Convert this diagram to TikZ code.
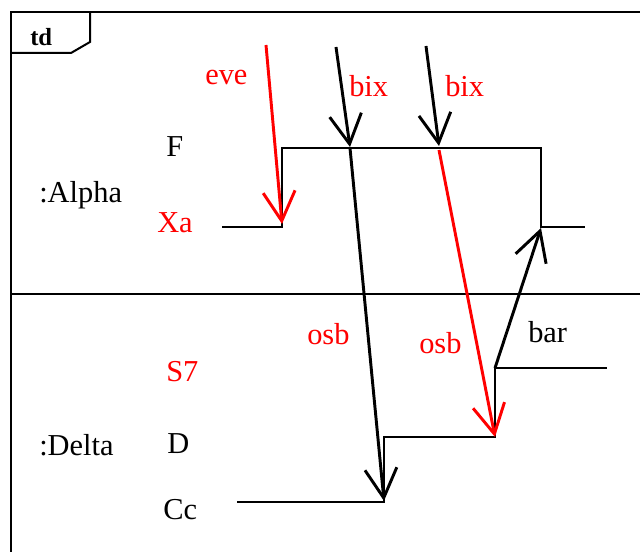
\documentclass[tikz,border=0pt]{standalone}
\usepackage{fontspec}
\setmainfont{Liberation Serif}
\usetikzlibrary{arrows.meta}
\begin{document}
\begin{tikzpicture}[x=0.75pt,y=-0.75pt,
  lbl/.style={anchor=base west, inner sep=0pt, font=\fontsize{22.8}{26}\selectfont},
  redlbl/.style={lbl, text=red},
  frameline/.style={line width=1.5pt},
  stateline/.style={line width=1.5pt},
  msg/.style={line width=2.2pt, -{Straight Barb[length=22pt,width=24pt,line width=2.2pt]}},
]
\useasboundingbox (0,0) rectangle (640,552);
\clip (0,0) rectangle (640,552);
% frame
\draw[frameline] (11,560) -- (11,12) -- (650,12);
\draw[frameline] (11,294) -- (650,294);
\draw[frameline] (11,53) -- (71,53) -- (90,42) -- (90,12);
\node[anchor=base west, inner sep=0pt, font=\fontsize{18.5}{22}\selectfont\bfseries] (td) at (30,46) {td};
% labels
\node[lbl] (alpha) at (39,203) {:Alpha};
\node[lbl] (delta) at (39,456) {:Delta};
\node[lbl] (F) at (166,157) {F};
\node[redlbl] (Xa) at (157,233) {Xa};
\node[redlbl] (S7) at (166,382) {S7};
\node[lbl] (D) at (167,454) {D};
\node[lbl] (Cc) at (163,520) {Cc};
\node[redlbl] (eve) at (205,85) {eve};
\node[redlbl] (bixA) at (349,97) {bix};
\node[redlbl] (bixB) at (445,97) {bix};
\node[redlbl] (osbA) at (307,345) {osb};
\node[redlbl] (osbB) at (419,354) {osb};
\node[lbl] (bar) at (528,343) {bar};
% coordinates
\coordinate (a0) at (222,227);
\coordinate (a1) at (282,148);
\coordinate (a2) at (541,227);
\coordinate (a3) at (585,227);
\coordinate (d0) at (237,502);
\coordinate (d1) at (384,437);
\coordinate (d2) at (495,368);
\coordinate (d3) at (607,368);
\coordinate (eveS) at (266,45);
\coordinate (eveE) at (282,224);
\coordinate (bixAS) at (336,47);
\coordinate (bixAE) at (350,147);
\coordinate (bixBS) at (426,46);
\coordinate (bixBE) at (439,146);
\coordinate (osbAS) at (350,148);
\coordinate (osbAE) at (384,501);
\coordinate (osbBS) at (439,150);
\coordinate (osbBE) at (495,437);
\coordinate (barS) at (495,368);
\coordinate (barE) at (541,228);
% state lines
\draw[stateline] (a0) -| (a1) -| (a2) -- (a3);
\draw[stateline] (d0) -| (d1) -| (d2) -- (d3);
% messages
\draw[msg, red] (eveS) -- (eveE);
\draw[msg] (bixAS) -- (bixAE);
\draw[msg] (bixBS) -- (bixBE);
\draw[msg] (osbAS) -- (osbAE);
\draw[msg, red] (osbBS) -- (osbBE);
\draw[msg] (barS) -- (barE);
\end{tikzpicture}
\end{document}
